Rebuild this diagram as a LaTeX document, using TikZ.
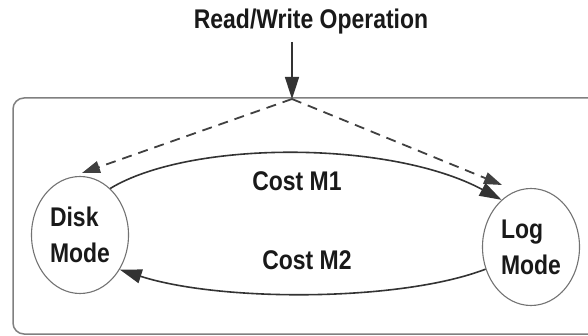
\documentclass[tikz,border=0pt]{standalone}
\usepackage{fontspec}
\setmainfont{Liberation Sans}[FakeStretch=0.85]
\usetikzlibrary{arrows.meta,shapes.geometric}
\tikzset{
  lbl/.style={font=\bfseries\fontsize{27}{36}\selectfont, text=black!90, inner sep=0pt},
  modenode/.style={ellipse, draw=black!55, line width=1.1pt, minimum width=97pt, minimum height=117pt, inner sep=0pt, align=left, font=\bfseries\fontsize{27}{36}\selectfont, text=black!90},
  frame/.style={draw=black!50, line width=1.5pt, rounded corners=11pt},
  solidarrow/.style={draw=black!80, line width=1.6pt, -{Triangle[length=22pt,width=14pt]}},
  dasharrow/.style={draw=black!75, line width=1.8pt, dash pattern=on 10pt off 7pt, -{Triangle[length=18pt,width=12pt]}},
}
\begin{document}
\begin{tikzpicture}[x=1pt,y=-1pt]
\useasboundingbox (0,0) rectangle (588,336);
\clip (0,0) rectangle (588,336);
\draw[frame] (13,98) rectangle (610,334);
\node[lbl] (title) at (311,22) {Read/Write Operation};
\coordinate (rwtop) at (292,42);
\coordinate (apex) at (292,99);
\draw[solidarrow] (rwtop) -- (apex);
\node[modenode] (disk) at (80,235) {Disk\\Mode};
\node[modenode] (log) at (531,247) {Log\\Mode};
\coordinate (disktip) at (82,173);
\coordinate (logtip) at (502,185);
\draw[dasharrow] (apex) -- (disktip);
\draw[dasharrow] (apex) -- (logtip);
\draw[solidarrow] (disk.57) .. controls (190,140) and (390,140) .. (log.122);
\draw[solidarrow] (log.206) .. controls (400,302) and (220,302) .. (disk.-41);
\node[lbl] (m1) at (297,181) {Cost M1};
\node[lbl] (m2) at (307,260) {Cost M2};
\end{tikzpicture}
\end{document}
